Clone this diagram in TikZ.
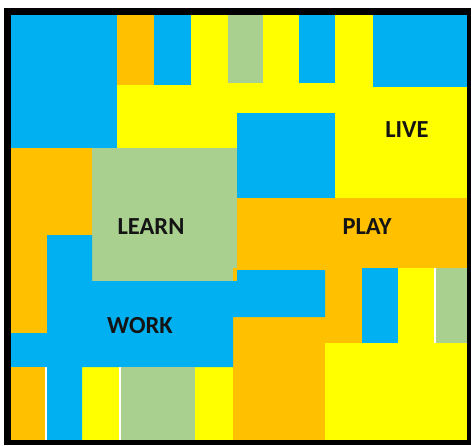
\documentclass[tikz,border=0pt]{standalone}
\usepackage{fontspec}
\setmainfont{Carlito}
\definecolor{cblue}{HTML}{00B0F0}
\definecolor{corange}{HTML}{FFC000}
\definecolor{cyellow}{HTML}{FFFF00}
\definecolor{cgreen}{HTML}{A9D08E}
\definecolor{ctext}{HTML}{141414}
\tikzset{
  lbl/.style={font=\fontsize{24.5}{29}\selectfont\bfseries, text=ctext, inner sep=0pt},
  gap/.style={draw=white, line width=1.6pt}
}
\begin{document}
\begin{tikzpicture}[x=1pt,y=-1pt]
\useasboundingbox (0,0) rectangle (471,445);
\fill[white] (0,0) rectangle (471,445);
% base
\fill[cyellow] (11,15) rectangle (467,440);
% top row
\fill[cblue] (11,15) rectangle (117,148);
\fill[corange] (117,15) rectangle (154,85);
\fill[cblue] (154,15) rectangle (191,85);
\fill[cgreen] (228,15) rectangle (263,83);
\fill[cblue] (299,15) rectangle (335,83);
\fill[cblue] (373,15) rectangle (467,87);
% middle square
\fill[cblue] (237,113) rectangle (335,198);
% left orange
\fill[corange] (11,148) rectangle (92,333);
% learn
\fill[cgreen] (92,148) rectangle (237,281);
% play
\fill[corange] (237,198) rectangle (467,268);
\fill[corange] (233,268) rectangle (362,343);
\fill[corange] (233,317) rectangle (325,440);
% work
\fill[cblue] (47,235) -- (92,235) -- (92,281) -- (237,281) -- (237,270) -- (325,270)
  -- (325,317) -- (233,317) -- (233,367) -- (82,367) -- (82,440) -- (47,440)
  -- (47,367) -- (11,367) -- (11,333) -- (47,333) -- cycle;
% bottom row
\fill[corange] (11,367) rectangle (46,440);
\fill[cgreen] (120,367) rectangle (195,440);
\draw[gap] (46,367) -- (46,440);
\draw[gap] (120,367) -- (120,440);
% right small blocks
\fill[cblue] (362,268) rectangle (398,343);
\fill[cgreen] (435,268) rectangle (467,343);
\draw[gap] (435,268) -- (435,343);
% frame
\fill[black] (4,8) rectangle (11,445);
\fill[black] (4,8) rectangle (471,15);
\fill[black] (467,8) rectangle (471,445);
\fill[black] (4,440) rectangle (471,445);
% labels
\node[lbl] (live) at (407,130) {LIVE};
\node[lbl] (learn) at (151,227) {LEARN};
\node[lbl] (play) at (367,227) {PLAY};
\node[lbl] (work) at (140,326) {WORK};
\end{tikzpicture}
\end{document}
